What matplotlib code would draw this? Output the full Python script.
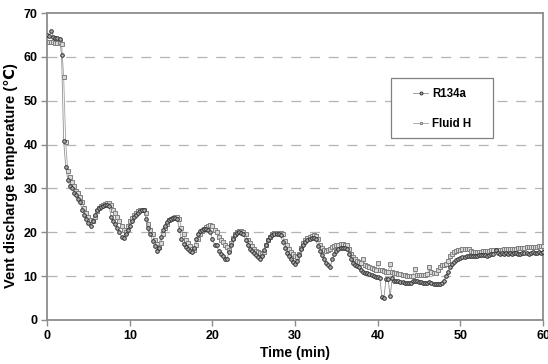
import numpy as np
import matplotlib
matplotlib.use("Agg")
import matplotlib.pyplot as plt
from matplotlib.patches import Rectangle

# Data: sampled every 0.25 min from 0 to 60 min (rows = one minute)
r134a = [
    65.0, 64.8, 66.0, 64.6,
    64.4, 64.3, 64.0, 60.5,
    40.8, 35.0, 32.0, 30.5,
    30.0, 29.0, 28.5, 27.5,
    26.8, 25.0, 24.0, 23.0,
    22.2, 21.5, 22.5, 24.0,
    25.0, 25.5, 25.8, 26.0,
    26.2, 26.2, 26.0, 23.5,
    22.5, 21.8, 21.0, 20.0,
    19.0, 18.6, 19.5, 20.5,
    21.5, 22.5, 23.5, 24.0,
    24.5, 24.8, 25.0, 25.0,
    23.0, 21.0, 19.5, 18.0,
    16.8, 15.8, 16.5, 19.0,
    20.5, 21.5, 22.3, 22.7,
    23.0, 23.2, 23.2, 23.0,
    20.5, 18.5, 17.3, 16.7,
    16.2, 15.8, 15.4, 16.5,
    18.5, 19.5, 20.2, 20.6,
    20.8, 20.7, 20.5, 20.0,
    18.5, 17.2, 17.0, 15.8,
    15.0, 14.5, 14.0, 13.8,
    15.5, 17.0, 18.5, 19.3,
    19.8, 20.0, 19.8, 19.5,
    18.3, 17.0, 16.3, 15.8,
    15.2, 14.8, 14.3, 14.0,
    14.5, 16.0, 17.2, 18.3,
    19.0, 19.3, 19.5, 19.6,
    19.6, 19.3, 17.8, 16.5,
    15.3, 14.5, 13.8, 13.3,
    12.8, 13.5, 14.8, 16.2,
    17.2, 17.8, 18.2, 18.5,
    18.6, 18.6, 18.4, 16.8,
    15.8, 14.8, 13.8, 13.0,
    12.5, 12.0, 14.0, 15.0,
    15.8, 16.2, 16.4, 16.5,
    16.5, 16.3, 15.0, 13.8,
    13.0, 12.5, 12.2, 12.0,
    11.5, 11.0, 10.8, 10.6,
    10.4, 10.2, 10.0, 9.8,
    9.7, 9.6, 5.3, 5.1,
    9.4, 9.3, 5.4, 9.5,
    9.0, 8.9, 8.8, 8.7,
    8.6, 8.5, 8.5, 8.4,
    8.5, 8.8, 8.9, 8.8,
    8.7, 8.6, 8.5, 8.4,
    8.4, 8.6, 8.5, 8.3,
    8.2, 8.3, 8.2, 8.5,
    9.0, 10.0, 11.0, 12.0,
    12.7, 13.2, 13.6, 13.9,
    14.1, 14.3, 14.4, 14.5,
    14.5, 14.6, 14.6, 14.7,
    14.7, 14.8, 14.8, 14.9,
    14.9, 14.6, 14.8, 15.0,
    15.0, 16.0, 15.2, 15.1,
    15.2, 15.0, 15.3, 15.1,
    15.2, 15.0, 15.2, 15.3,
    15.1, 15.0, 15.2, 15.3,
    15.2, 15.1, 15.3, 15.4,
    15.2, 15.3, 15.4, 15.3,
    15.4,
]

fluid_h = [
    63.5, 63.3, 63.3, 63.3,
    63.2, 63.2, 63.3, 63.0,
    55.5, 40.5, 34.0, 32.5,
    31.5, 30.5, 29.5, 29.0,
    28.0, 27.0, 25.5, 24.5,
    23.5, 22.8, 22.5, 23.5,
    24.8, 25.5, 26.0, 26.3,
    26.5, 26.6, 26.6, 26.3,
    25.0, 24.5, 23.5, 22.5,
    21.5, 20.5, 20.0, 21.5,
    22.5, 23.3, 24.0, 24.4,
    24.8, 25.0, 25.1, 25.0,
    24.5, 22.0, 20.5, 19.5,
    18.3, 17.3, 16.7, 17.5,
    19.5, 21.0, 22.0, 22.7,
    23.0, 23.3, 23.4, 23.4,
    23.0, 21.0, 19.5, 18.3,
    17.5, 16.8, 16.3, 16.0,
    17.0, 18.5, 19.5, 20.3,
    20.8, 21.2, 21.5, 21.6,
    21.5, 20.5, 20.0, 19.0,
    18.2, 17.8, 17.2, 16.6,
    16.0, 17.5, 18.8, 19.6,
    20.1, 20.3, 20.2, 20.0,
    19.5, 18.3, 17.5, 16.8,
    16.2, 15.8, 15.4, 15.2,
    15.0, 15.5, 17.0, 18.2,
    19.0, 19.5, 19.8, 19.9,
    19.9, 19.8, 19.5, 18.0,
    17.0, 16.2, 15.6, 15.0,
    14.6, 14.4, 15.0, 16.5,
    17.5, 18.2, 18.7, 19.0,
    19.2, 19.3, 19.2, 18.5,
    17.2, 16.5, 16.0, 15.8,
    15.9, 16.2, 16.6, 16.9,
    17.1, 17.2, 17.3, 17.3,
    17.2, 17.0, 16.3, 15.0,
    14.3, 13.8, 13.5, 13.2,
    13.0, 13.8, 12.6, 12.3,
    12.0, 11.8, 11.6, 11.5,
    13.0, 11.4, 11.3, 11.2,
    11.0, 11.0, 12.7, 11.0,
    10.8, 10.7, 10.5, 10.4,
    10.3, 10.2, 10.1, 10.0,
    10.0, 10.0, 11.6, 10.3,
    10.2, 10.2, 10.2, 10.3,
    10.5, 12.0, 11.0, 10.6,
    10.8, 11.5, 12.0, 12.5,
    12.6, 12.7, 13.5, 14.5,
    15.0, 15.5, 15.7, 15.9,
    16.0, 16.1, 16.2, 16.2,
    16.2, 15.8, 15.5, 15.5,
    15.5, 15.6, 15.6, 15.7,
    15.7, 15.8, 15.8, 15.9,
    15.9, 15.9, 16.0, 16.0,
    16.0, 16.1, 16.1, 16.2,
    16.2, 16.3, 16.3, 16.3,
    16.4, 16.4, 16.5, 16.5,
    16.6, 16.6, 16.6, 16.7,
    16.7, 16.7, 16.8, 16.8,
    16.8,
]

time_step = 0.25
x_ticks = [0, 10, 20, 30, 40, 50, 60]
y_ticks = [0, 10, 20, 30, 40, 50, 60, 70]

t_r = np.arange(len(r134a)) * time_step
t_f = np.arange(len(fluid_h)) * time_step

plt.rcParams['font.family'] = ['Liberation Sans', 'DejaVu Sans']
fig = plt.figure(figsize=(5.48, 3.64), dpi=100)
ax = fig.add_axes([0.086, 0.121, 0.905, 0.843])

ax.plot(t_f, fluid_h, color='#a0a0a0', lw=0.6, marker='s', ms=2.6,
        mfc='#d8d8d8', mec='#808080', mew=0.7, label='Fluid H', zorder=3)
ax.plot(t_r, r134a, color='#909090', lw=0.6, marker='o', ms=2.6,
        mfc='#b0b0b0', mec='#303030', mew=0.7, label='R134a', zorder=4)

ax.set_xlim(0, 60)
ax.set_ylim(0, 70)
ax.set_xticks(x_ticks)
ax.set_yticks(y_ticks)
for yv in y_ticks[1:-1]:
    ax.axhline(yv, color='#b4b4b4', lw=0.9, ls=(0, (8, 7)), zorder=1)

for s in ax.spines.values():
    s.set_color('#8c8c8c')
    s.set_linewidth(1.3)
ax.tick_params(direction='out', length=4, width=1.0, color='#8c8c8c',
               labelsize=9, pad=3)
for lab in ax.get_xticklabels() + ax.get_yticklabels():
    lab.set_fontweight('bold')

ax.set_xlabel('Time (min)', fontsize=10, fontweight='bold', labelpad=3)
ax.set_ylabel('Vent discharge temperature (℃)', fontsize=10.5,
              fontweight='bold')
ax.yaxis.set_label_coords(-0.058, 0.47)

# legend box
ax.add_patch(Rectangle((0.694, 0.593), 0.205, 0.195, transform=ax.transAxes,
                       facecolor='white', edgecolor='#808080', lw=0.9,
                       zorder=5))
handles, labels = ax.get_legend_handles_labels()
leg = ax.legend(handles[::-1], labels[::-1], loc='center left',
                bbox_to_anchor=(0.738, 0.687), frameon=False,
                borderpad=0, borderaxespad=0, handlelength=1.3,
                labelspacing=1.55, handletextpad=0.35, markerscale=0.8,
                prop={'weight': 'bold', 'size': 8.3})
leg.set_zorder(6)

fig.savefig('out.png', dpi=100)
